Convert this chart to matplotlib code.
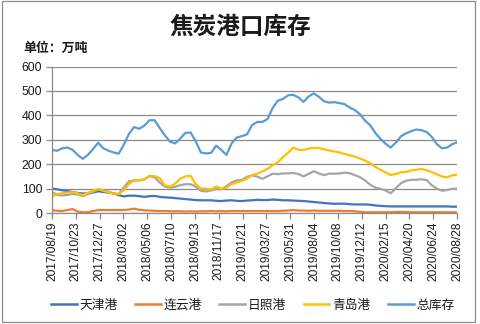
import matplotlib
matplotlib.use("Agg")
import matplotlib.pyplot as plt
import matplotlib.dates as mdates
import pandas as pd
from matplotlib.patches import Rectangle

# ---------------- data ----------------
dates = pd.date_range("2017-08-19", periods=79, freq="14D").append(pd.DatetimeIndex(["2020-08-28"]))

tianjin = [100, 97, 93, 90, 86, 82, 80, 80, 83, 89,
           86, 84, 80, 73, 68, 71, 71, 69, 66, 69,
           70, 66, 64, 63, 61, 59, 57, 55, 53, 52,
           52, 52, 50, 49, 51, 52, 50, 49, 51, 52,
           54, 53, 53, 55, 54, 52, 52, 51, 50, 49,
           47, 45, 43, 41, 39, 38, 38, 38, 36, 35,
           35, 35, 34, 31, 29, 28, 27, 27, 27, 27,
           27, 27, 27, 27, 27, 27, 27, 27, 26, 26]
lianyun = [12, 9, 8, 12, 16, 6, 3, 3, 8, 12,
           12, 12, 12, 12, 12, 14, 18, 13, 11, 10,
           9, 8, 8, 7, 7, 7, 6, 7, 6, 7,
           7, 8, 7, 8, 7, 8, 8, 8, 8, 8,
           8, 8, 8, 8, 8, 9, 10, 12, 10, 10,
           9, 10, 9, 9, 9, 9, 9, 8, 8, 7,
           5, 3, 3, 3, 3, 3, 3, 4, 5, 4,
           3, 3, 3, 3, 3, 3, 3, 3, 3, 3]
rizhao = [86, 74, 72, 74, 78, 76, 69, 78, 85, 98,
          93, 87, 80, 78, 104, 130, 132, 134, 138, 151,
          146, 125, 108, 104, 107, 114, 118, 118, 108, 91,
          88, 92, 98, 97, 110, 125, 134, 135, 148, 154,
          149, 140, 150, 161, 159, 162, 162, 164, 160, 150,
          160, 171, 162, 155, 161, 161, 162, 165, 163, 155,
          147, 133, 116, 104, 99, 92, 81, 101, 122, 132,
          136, 136, 138, 135, 114, 100, 91, 94, 99, 100]
qingdao = [67, 78, 81, 84, 85, 81, 73, 83, 92, 99,
           91, 85, 80, 77, 93, 118, 136, 133, 137, 152,
           151, 143, 113, 109, 120, 140, 150, 153, 118, 100,
           100, 96, 109, 99, 104, 118, 125, 132, 141, 155,
           161, 170, 181, 195, 208, 229, 246, 268, 259, 258,
           264, 267, 266, 261, 256, 252, 248, 242, 237, 231,
           223, 215, 204, 189, 177, 167, 156, 160, 167, 168,
           175, 177, 181, 175, 168, 158, 150, 146, 154, 157]
total = [258, 255, 265, 268, 259, 238, 222, 238, 262, 288,
         265, 255, 248, 243, 280, 324, 352, 345, 358, 380,
         380, 348, 318, 292, 285, 305, 328, 330, 294, 248,
         244, 246, 276, 258, 238, 285, 309, 315, 322, 360,
         373, 373, 385, 430, 460, 467, 482, 484, 474, 455,
         477, 490, 476, 458, 452, 454, 450, 446, 432, 422,
         405, 378, 360, 328, 304, 284, 268, 288, 314, 326,
         335, 342, 339, 332, 312, 282, 265, 268, 282, 289]

series_names = ["天津港", "连云港", "日照港", "青岛港", "总库存"]
series_vals = [tianjin, lianyun, rizhao, qingdao, total]
series_colors = ["#4472C4", "#ED7D31", "#A5A5A5", "#FFC000", "#5B9BD5"]

title = "焦炭港口库存"
unit_label = "单位：万吨"
y_ticks = [0, 100, 200, 300, 400, 500, 600]
x_tick_start = "2017-08-19"
x_tick_step_days = 65
x_tick_count = 18

# ---------------- figure ----------------
W, H, DPI = 481, 324, 100
fig = plt.figure(figsize=(W / DPI, H / DPI), dpi=DPI)
fig.patch.set_facecolor("white")

cjk = ["Noto Sans CJK SC", "DejaVu Sans"]
num_font = "Liberation Sans"

# outer border of the chart object
fig.add_artist(Rectangle((2 / W, 2 / H), 473 / W, 321 / H, transform=fig.transFigure,
                         fill=False, edgecolor="#8c8c8c", linewidth=0.9))

ax = fig.add_axes([52 / W, 111 / H, 405 / W, 146.5 / H])
for name, vals, col in zip(series_names, series_vals, series_colors):
    ax.plot(dates, vals, color=col, linewidth=1.6, label=name, solid_joinstyle="round")

ax.set_ylim(0, 600)
ax.set_yticks(y_ticks)
ax.set_xlim(pd.Timestamp("2017-08-19"), pd.Timestamp("2020-08-28"))
xt = pd.date_range(x_tick_start, periods=x_tick_count, freq=f"{x_tick_step_days}D")
ax.set_xticks(xt)
ax.xaxis.set_major_formatter(mdates.DateFormatter("%Y/%m/%d"))

ax.grid(axis="y", color="#8a8a8a", linewidth=0.9)
ax.set_axisbelow(True)
for s in ["top", "right"]:
    ax.spines[s].set_visible(False)
for s in ["left", "bottom"]:
    ax.spines[s].set_color("#8a8a8a")
    ax.spines[s].set_linewidth(0.9)
ax.tick_params(axis="both", colors="#8a8a8a", length=4, width=0.9)
ax.tick_params(axis="y", labelcolor="#1a1a1a", labelsize=8.8, pad=3)
ax.tick_params(axis="x", labelcolor="#1a1a1a", labelsize=8.6, pad=2, labelrotation=90)
for lab in ax.get_xticklabels() + ax.get_yticklabels():
    lab.set_fontfamily(num_font)

fig.text(240 / W, 1 - 27 / H, title, ha="center", va="center", fontsize=17,
         family=cjk, fontweight="bold", color="#1a1a1a")
fig.text(23 / W, 1 - 48 / H, unit_label, ha="left", va="center", fontsize=9.3,
         family=cjk, fontweight="bold", color="#1a1a1a")

leg = fig.legend(loc="center", bbox_to_anchor=(253 / W, 1 - 305 / H), ncol=5,
                 frameon=False, prop={"family": cjk, "size": 9.2},
                 handlelength=2.0, handletextpad=0.25, columnspacing=1.35,
                 borderaxespad=0, borderpad=0)
for t in leg.get_texts():
    t.set_color("#1a1a1a")
for h in leg.get_lines():
    h.set_linewidth(1.8)

fig.savefig("out.png", dpi=DPI)
